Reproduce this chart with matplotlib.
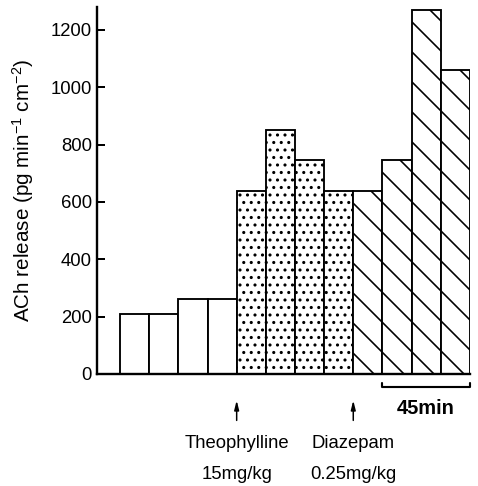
import numpy as np
import matplotlib.pyplot as plt

plt.rcParams['font.family'] = ['Liberation Sans', 'DejaVu Sans']
plt.rcParams['mathtext.default'] = 'regular'
plt.rcParams['hatch.linewidth'] = 1.3

# ACh release for each 15 min collection period
release = [210, 210, 260, 260, 640, 850, 745, 640, 640, 745, 1270, 1060]
phase = ['control'] * 4 + ['theophylline'] * 4 + ['diazepam'] * 4
y_ticks = [0, 200, 400, 600, 800, 1000, 1200]

# drug given between bars (position, name, dose)
drugs = [(3.5, 'Theophylline', '15mg/kg'), (7.5, 'Diazepam', '0.25mg/kg')]

hatch_of = {'control': '', 'theophylline': '..', 'diazepam': '\\'}

# dpi picked so the default hatch spacing matches the scanned figure
DPI = 90
fig = plt.figure(figsize=(478 / DPI, 486 / DPI), dpi=DPI)
ax = fig.add_axes([0.203, 0.2305, 0.78, 0.755])

x = np.arange(len(release))
for xi, val, ph in zip(x, release, phase):
    ax.bar(xi, val, width=1.0, facecolor='white', edgecolor='black',
           linewidth=1.5, hatch=hatch_of[ph])

ax.set_xlim(-1.29, 11.5)
ax.set_ylim(0, 1280)
ax.set_yticks(y_ticks)
ax.set_xticks([])
ax.tick_params(axis='y', direction='in', length=6, width=1.6, labelsize=14.8, pad=4)
for s in ['top', 'right']:
    ax.spines[s].set_visible(False)
for s in ['left', 'bottom']:
    ax.spines[s].set_linewidth(1.9)

ax.set_ylabel('ACh release (pg min$^{-1}$ cm$^{-2}$)', fontsize=16.5, labelpad=12)

# drug arrows and labels
for pos, name, dose in drugs:
    ax.annotate('', xy=(pos, -92), xytext=(pos, -162), annotation_clip=False,
                arrowprops=dict(arrowstyle='-|>,head_width=0.15,head_length=0.6',
                                color='black', lw=1.2, shrinkA=0, shrinkB=0))
    ax.text(pos, -244, name, ha='center', va='center', fontsize=14.8, clip_on=False)
    ax.text(pos, -352, dose, ha='center', va='center', fontsize=14.8, clip_on=False)

# time scale bar
ax.plot([8.5, 8.5, 11.5, 11.5], [-32, -45, -45, -32], color='black', lw=1.7,
        clip_on=False, solid_capstyle='round', solid_joinstyle='round')
ax.text(10.0, -122, '45min', ha='center', va='center', fontsize=16,
        fontweight='bold', clip_on=False)

fig.savefig('out.png', dpi=DPI)
